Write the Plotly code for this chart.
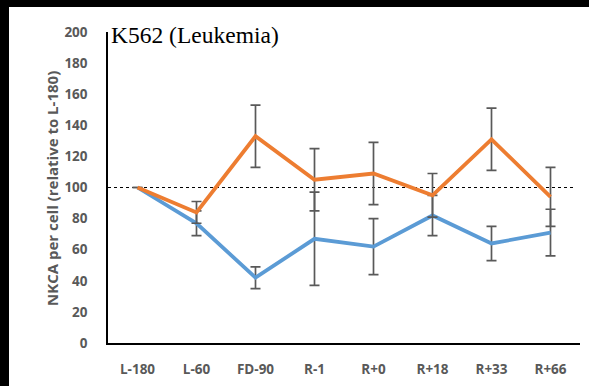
import plotly.graph_objects as go

categories = ["L-180", "L-60", "FD-90", "R-1", "R+0", "R+18", "R+33", "R+66"]
blue_vals = [100, 77, 42, 67, 62, 82, 64, 71]
blue_err = [0, 8, 7, 30, 18, 13, 11, 15]
orange_vals = [100, 84, 133, 105, 109, 95, 131, 94]
orange_err = [0, 7, 20, 20, 20, 14, 20, 19]
y_ticks = [0, 20, 40, 60, 80, 100, 120, 140, 160, 180, 200]

W, H = 589, 386
L, R, T, B = 108, 9, 32, 43
PW, PH = W - L - R, H - T - B

def px_x(p):
    return (p - L) / PW

def px_y(p):
    return (H - B - p) / PH

fig = go.Figure()
for vals, err, color in [(blue_vals, blue_err, "#5B9BD5"), (orange_vals, orange_err, "#ED7D31")]:
    fig.add_trace(go.Scatter(
        x=categories, y=vals, mode="lines",
        line=dict(color=color, width=3.8),
        error_y=dict(type="data", array=err, visible=True, color="#595959", thickness=1.7, width=5),
        showlegend=False, hoverinfo="skip",
    ))

tick_font = dict(family="Open Sans", size=13.5, color="#595959", weight="bold")
fig.update_layout(
    width=W, height=H,
    margin=dict(l=L, r=R, t=T, b=B),
    paper_bgcolor="white", plot_bgcolor="white",
    xaxis=dict(type="category", range=[-0.5, 7.5], showgrid=False, showline=True,
               linecolor="black", linewidth=1.5, ticks="", tickfont=tick_font,
               ticklabelstandoff=13, zeroline=False),
    yaxis=dict(range=[0, 200], tickvals=y_ticks, showgrid=False, showline=True,
               linecolor="black", linewidth=1.5, ticks="", tickfont=tick_font,
               ticklabelstandoff=16, zeroline=False),
    shapes=[
        dict(type="rect", xref="paper", yref="paper", layer="above",
             x0=px_x(0), x1=px_x(9), y0=px_y(H), y1=px_y(0),
             fillcolor="black", line=dict(width=0)),
        dict(type="rect", xref="paper", yref="paper", layer="above",
             x0=px_x(0), x1=px_x(W), y0=px_y(7), y1=px_y(0),
             fillcolor="black", line=dict(width=0)),
        dict(type="line", xref="paper", yref="y", x0=0, x1=px_x(573),
             y0=100, y1=100, line=dict(color="black", width=1, dash="dot"), layer="below"),
    ],
    annotations=[
        dict(text="K562 (Leukemia)", xref="paper", yref="paper",
             x=px_x(109), y=px_y(35),
             xanchor="left", yanchor="middle", showarrow=False,
             font=dict(family="Liberation Serif", size=23.5, color="black")),
        dict(text="<b>NKCA per cell (relative to L-180)</b>", xref="paper", yref="paper",
             x=px_x(52), y=px_y(189), xanchor="center", yanchor="middle",
             textangle=-90, showarrow=False,
             font=dict(family="Open Sans", size=15, color="#595959")),
    ],
)
fig.write_html("out.html", config={"displayModeBar": False})

with open("out.html", encoding="utf-8") as f:
    html = f.read()
html = html.replace("<head>", "<head><style>html,body{margin:0;padding:0;}</style>", 1)
with open("out.html", "w", encoding="utf-8") as f:
    f.write(html)
